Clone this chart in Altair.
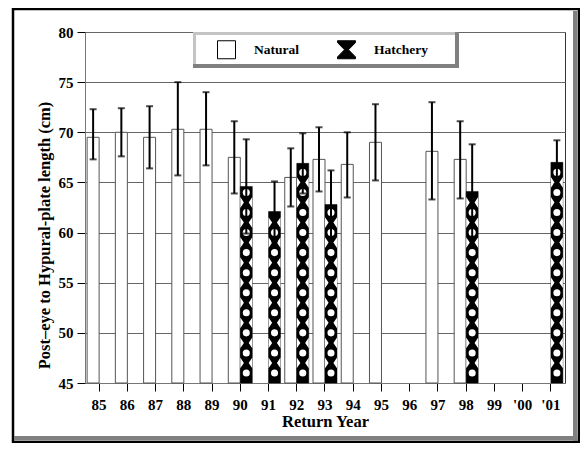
import altair as alt
import pandas as pd
import numpy as np

# ---- data ----
years = ["85", "86", "87", "88", "89", "90", "91", "92", "93", "94", "95", "96",
         "97", "98", "99", "'00", "'01"]
types = ["Natural", "Hatchery"]

natural_mean = [69.5, 70.0, 69.5, 70.3, 70.3, 67.5, None, 65.5, 67.3, 66.8, 69.0, None,
                68.1, 67.3, None, None, None]
natural_hi = [72.3, 72.4, 72.6, 75.0, 74.0, 71.1, None, 68.4, 70.5, 70.0, 72.8, None,
              73.0, 71.1, None, None, None]
natural_lo = [67.3, 67.6, 66.4, 65.7, 66.7, 63.9, None, 62.6, 64.1, 63.5, 65.2, None,
              63.3, 63.4, None, None, None]

hatchery_mean = [None, None, None, None, None, 64.6, 62.1, 66.9, 62.8, None, None, None,
                 None, 64.1, None, None, 67.0]
hatchery_hi = [None, None, None, None, None, 69.3, 65.1, 69.9, 66.2, None, None, None,
               None, 68.8, None, None, 69.2]
hatchery_lo = [None, None, None, None, None, 59.9, 59.1, 63.9, 59.4, None, None, None,
               None, 59.4, None, None, 64.8]

rows = []
for i, yr in enumerate(years):
    if natural_mean[i] is not None:
        rows.append({"year": yr, "type": "Natural", "mean": natural_mean[i],
                     "hi": natural_hi[i], "lo": natural_lo[i]})
    if hatchery_mean[i] is not None:
        rows.append({"year": yr, "type": "Hatchery", "mean": hatchery_mean[i],
                     "hi": hatchery_hi[i], "lo": hatchery_lo[i]})
df = pd.DataFrame(rows)

# hatch-pattern decoration inside the hatchery bars (derived from the bar heights)
circ, tri = [], []
for r in rows:
    if r["type"] != "Hatchery":
        continue
    for p in np.arange(46.0, r["mean"] - 0.45, 2.0):
        circ.append({"year": r["year"], "type": "Hatchery", "pos": float(p)})
    for p in np.arange(47.0, r["mean"] - 0.7, 2.0):
        tri.append({"year": r["year"], "type": "Hatchery", "pos": float(p)})
circ_df = pd.DataFrame(circ)
tri_df = pd.DataFrame(tri)

one = pd.DataFrame({"k": [0]})

FONT = "'Liberation Serif', 'Times New Roman', Tinos, Times, serif"
TRI_PATH = "M-1,-0.9L-0.4,0L-1,0.9ZM1,-0.9L0.4,0L1,0.9Z"
HOURGLASS = "M-1,-1L1,-1L1,-0.8L0.22,0L1,0.8L1,1L-1,1L-1,0.8L-0.22,0L-1,-0.8Z"

x_enc = alt.X(
    "year:N", sort=years,
    scale=alt.Scale(domain=years, paddingInner=0.15, paddingOuter=0.075),
    axis=alt.Axis(title="Return Year", labelAngle=0, tickSize=8, labelPadding=6,
                  titleY=43, titleBaseline="alphabetic", grid=False),
)
xo_enc = alt.XOffset("type:N", scale=alt.Scale(domain=types, paddingInner=0, paddingOuter=0))
y_scale = alt.Scale(domain=[45, 80], nice=False, zero=False)
y_enc = alt.Y(
    "mean:Q", scale=y_scale,
    axis=alt.Axis(title="Post–eye to Hypural-plate length (cm)",
                  values=[45, 50, 55, 60, 65, 70, 75, 80], tickSize=8, labelPadding=4,
                  grid=True, titleX=-36, titleY=203, titleBaseline="alphabetic"),
)

# outer frame
frame = alt.Chart(one).mark_rect(fill="transparent", stroke="black", strokeWidth=2.5).encode(
    x=alt.value(-72), x2=alt.value(494), y=alt.value(-23), y2=alt.value(410))
frame_r = alt.Chart(one).mark_rect(color="#808080").encode(
    x=alt.value(488), x2=alt.value(492.5), y=alt.value(-21), y2=alt.value(409))
frame_b = alt.Chart(one).mark_rect(color="#808080").encode(
    x=alt.value(-71), x2=alt.value(492.5), y=alt.value(404), y2=alt.value(408.5))

nat = alt.Chart(df).transform_filter(alt.datum.type == "Natural").mark_bar(
    fill="white", stroke="#555555", strokeWidth=1).encode(
    x=x_enc, xOffset=xo_enc, y=y_enc, y2=alt.datum(45))
hat = alt.Chart(df).transform_filter(alt.datum.type == "Hatchery").mark_bar(
    fill="black", stroke="black", strokeWidth=0.5).encode(
    x=x_enc, xOffset=xo_enc, y=y_enc, y2=alt.datum(45))

circles = alt.Chart(circ_df).mark_point(filled=True, color="white", opacity=1, size=50,
                                        shape="circle", strokeWidth=0).encode(
    x=alt.X("year:N", sort=years), xOffset=alt.XOffset("type:N"),
    y=alt.Y("pos:Q", scale=y_scale))
tris = alt.Chart(tri_df).mark_point(filled=True, color="white", opacity=1, size=144,
                                    shape=TRI_PATH, strokeWidth=0).encode(
    x=alt.X("year:N", sort=years), xOffset=alt.XOffset("type:N"),
    y=alt.Y("pos:Q", scale=y_scale))

err = alt.Chart(df).mark_rule(color="black", strokeWidth=2).encode(
    x=alt.X("year:N", sort=years), xOffset=alt.XOffset("type:N"),
    y=alt.Y("lo:Q", scale=y_scale), y2="hi:Q")
cap_hi = alt.Chart(df).mark_tick(color="black", thickness=2, size=7).encode(
    x=alt.X("year:N", sort=years), xOffset=alt.XOffset("type:N"),
    y=alt.Y("hi:Q", scale=y_scale))
cap_lo = alt.Chart(df).mark_tick(color="black", thickness=2, size=7).encode(
    x=alt.X("year:N", sort=years), xOffset=alt.XOffset("type:N"),
    y=alt.Y("lo:Q", scale=y_scale))

# legend box (bevelled)
lb1 = alt.Chart(one).mark_rect(color="#808080").encode(
    x=alt.value(108), x2=alt.value(374), y=alt.value(0), y2=alt.value(36))
lb2 = alt.Chart(one).mark_rect(color="#c4c4c4").encode(
    x=alt.value(108), x2=alt.value(370), y=alt.value(0), y2=alt.value(32))
lb3 = alt.Chart(one).mark_rect(color="white").encode(
    x=alt.value(111), x2=alt.value(370), y=alt.value(3), y2=alt.value(32))

leg = alt.Legend(orient="none", legendX=132, legendY=8, direction="horizontal", title=None,
                 padding=0, symbolSize=324, symbolStrokeColor="black", symbolStrokeWidth=1,
                 symbolOpacity=1, labelFont=FONT, labelFontSize=13.5, labelFontWeight="bold",
                 labelColor="black", labelOffset=18, columnPadding=36)
legend_layer = alt.Chart(df).mark_point(filled=True, opacity=0, strokeWidth=1).encode(
    x=alt.X("year:N", sort=years), xOffset=alt.XOffset("type:N"),
    y=alt.Y("mean:Q", scale=y_scale),
    shape=alt.Shape("type:N", scale=alt.Scale(domain=types, range=["square", HOURGLASS]), legend=leg),
    fill=alt.Fill("type:N", scale=alt.Scale(domain=types, range=["white", "black"]), legend=leg),
    stroke=alt.Stroke("type:N", scale=alt.Scale(domain=types, range=["black", "black"]), legend=leg),
)

chart = alt.layer(
    frame, frame_r, frame_b, nat, hat, circles, tris, err, cap_hi, cap_lo,
    lb1, lb2, lb3, legend_layer
).properties(
    width=480, height=351,
    padding={"left": 77, "top": 24, "right": 15, "bottom": 60},
    autosize=alt.AutoSizeParams(type="none"),
    background="white",
).configure_view(
    stroke="#333333", strokeWidth=1
).configure_axis(
    labelFont=FONT, labelFontSize=15, labelFontWeight="bold", labelColor="black",
    titleFont=FONT, titleFontSize=16.5, titleFontWeight="bold", titleColor="black",
    tickColor="black", domainColor="#777777", gridColor="#666666", gridWidth=1,
)

chart.save("out.html", embed_options={"renderer": "svg", "actions": False})
